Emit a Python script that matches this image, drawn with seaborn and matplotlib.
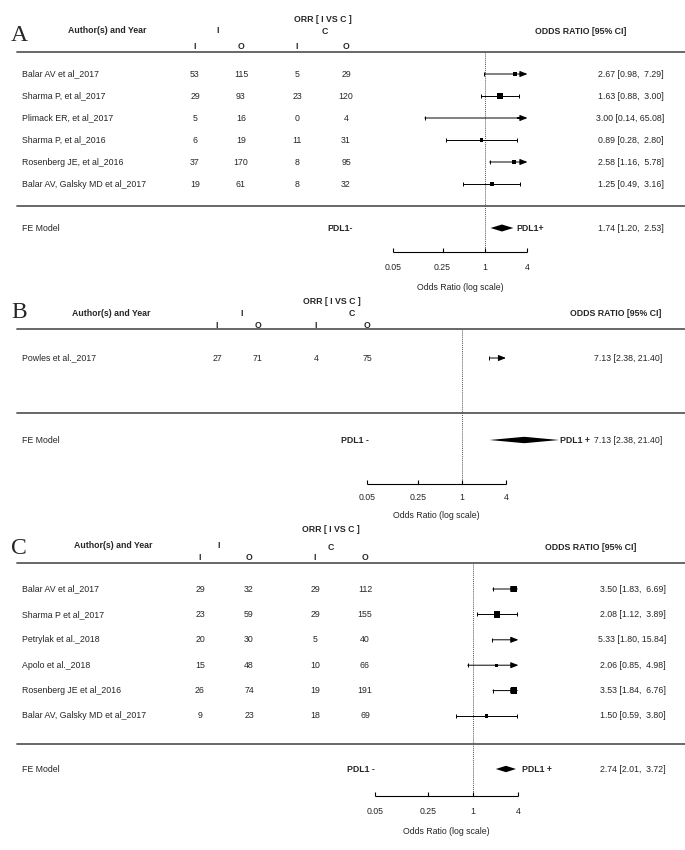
import numpy as np
import matplotlib
matplotlib.use('Agg')
import matplotlib.pyplot as plt
import matplotlib.transforms as mtransforms
import seaborn as sns

# ---------------- data ----------------
# panel A
a_names = ["Balar AV et al_2017", "Sharma P, et al_2017", "Plimack ER, et al_2017",
           "Sharma P, et al_2016", "Rosenberg JE, et al_2016", "Balar AV, Galsky MD et al_2017"]
a_ii = [53, 29, 5, 6, 37, 19]
a_io = [115, 93, 16, 19, 170, 61]
a_ci = [5, 23, 0, 11, 8, 8]
a_co = [29, 120, 4, 31, 95, 32]
a_or = [2.67, 1.63, 3.00, 0.89, 2.58, 1.25]
a_lo = [0.98, 0.88, 0.14, 0.28, 1.16, 0.49]
a_hi = [7.29, 3.00, 65.08, 2.80, 5.78, 3.16]
a_fe = [1.74, 1.20, 2.53]

# panel B
b_names = ["Powles et al._2017"]
b_ii = [27]
b_io = [71]
b_ci = [4]
b_co = [75]
b_or = [7.13]
b_lo = [2.38]
b_hi = [21.40]
b_fe = [7.13, 2.38, 21.40]

# panel C
c_names = ["Balar AV et al_2017", "Sharma P et al_2017", "Petrylak et al._2018",
           "Apolo et al._2018", "Rosenberg JE et al_2016", "Balar AV, Galsky MD et al_2017"]
c_ii = [29, 23, 20, 15, 26, 9]
c_io = [32, 59, 30, 48, 74, 23]
c_ci = [29, 29, 5, 10, 19, 18]
c_co = [112, 155, 40, 66, 191, 69]
c_or = [3.50, 2.08, 5.33, 2.06, 3.53, 1.50]
c_lo = [1.83, 1.12, 1.80, 0.85, 1.84, 0.59]
c_hi = [6.69, 3.89, 15.84, 4.98, 6.76, 3.80]
c_fe = [2.74, 2.01, 3.72]

ticks = [0.05, 0.25, 1, 4]
tick_labels = ["0.05", "0.25", "1", "4"]

# ---------------- style ----------------
sns.set_theme(style='white')
plt.rcParams['font.family'] = ['Liberation Sans', 'DejaVu Sans']
FS = 6.3
W, H = 685, 850
fig = plt.figure(figsize=(W / 100, H / 100), dpi=100)


def draw_panel(letter, names, ii, io, ci, co, ors, los, his, fe, lay, pdl):
    ax = fig.add_axes([0, 0, 1, 1])
    ax.set_xscale('log')
    ax.set_xlim(np.exp(-lay['x1'] / lay['ppl']), np.exp((W - lay['x1']) / lay['ppl']))
    ax.set_ylim(H, 0)
    ax.axis('off')
    ax.patch.set_alpha(0)
    tx = mtransforms.blended_transform_factory(ax.transAxes, ax.transData)

    def t(px, y, s, **kw):
        kw.setdefault('fontsize', FS)
        kw.setdefault('va', 'center')
        ax.text(px / W, y, s, transform=tx, **kw)

    lo_lim, hi_lim = ticks[0], ticks[-1]
    rows = lay['row0'] + lay['dy'] * np.arange(len(names))

    # panel letter and headers
    t(lay['let_x'], lay['let_y'], letter, fontsize=17, family=['Liberation Serif'], ha='left')
    t(lay['orr_x'], lay['orr_y'], "ORR [ I VS C ]", fontweight='bold', ha='center')
    t(lay['auth_x'], lay['grp_y'], "Author(s) and Year", fontweight='bold', ha='center')
    t(lay['gi_x'], lay['grp_y'], "I", fontweight='bold', ha='center')
    t(lay['gc_x'], lay['grp_y'] + 1, "C", fontweight='bold', ha='center')
    t(lay['odds_x'], lay['grp_y'] + 1, "ODDS RATIO [95% CI]", fontweight='bold', ha='center')
    for px, s in zip(lay['cols'], ["I", "O", "I", "O"]):
        t(px, lay['sub_y'], s, fontweight='bold', ha='center')

    for yy in (lay['line1'], lay['line2']):
        ax.axhline(yy, xmin=17 / W, xmax=1, color='#5c5c5c', lw=1.3)

    ax.vlines(1, lay['line1'], lay['axis_y'], colors='#555555', linestyles=(0, (1, 1)), lw=0.7)

    # study rows
    for k, y in enumerate(rows):
        t(22, y, names[k], ha='left')
        for px, v in zip(lay['cols'], [ii[k], io[k], ci[k], co[k]]):
            t(px, y, str(v), ha='center')
        t(lay['ci_x'], y, f"{ors[k]:.2f} [{los[k]:.2f}, {his[k]:5.2f}]", ha='right')

        lo = max(los[k], lo_lim)
        if his[k] > hi_lim:
            ax.annotate('', xy=(hi_lim, y), xytext=(lo, y),
                        arrowprops=dict(arrowstyle='-|>,head_length=0.5,head_width=0.2',
                                        color='black', lw=0.7, shrinkA=0, shrinkB=0,
                                        mutation_scale=9))
            ax.vlines([lo], y - 2, y + 2, colors='black', lw=0.7)
        else:
            ax.hlines(y, lo, his[k], colors='black', lw=0.7)
            ax.vlines([lo, his[k]], y - 2, y + 2, colors='black', lw=0.7)

    # square size from inverse-variance weight (0.5 added for zero cells)
    tab = np.array([ii, io, ci, co], dtype=float)
    tab = np.where((tab == 0).any(axis=0), tab + 0.5, tab)
    w = 1 / (1 / tab).sum(axis=0)
    if len(w) > 1:
        psize = (w - w.min()) / (w.max() - w.min()) + 0.5
    else:
        psize = np.ones(1)
    side_pt = psize * 4.5 * 0.72
    ors_a = np.array(ors)
    keep = ors_a <= hi_lim
    if keep.sum() > 1:
        area = side_pt[keep] ** 2
        sns.scatterplot(x=ors_a[keep], y=rows[keep], size=area,
                        sizes=(area.min(), area.max()), marker='s', color='black',
                        linewidth=0, legend=False, ax=ax)

    # fixed-effect model
    fy = lay['fe_y']
    t(22, fy, "FE Model", ha='left')
    est, flo, fhi = fe
    h = lay['dh']
    ax.fill([flo, est, fhi, est], [fy, fy - h, fy, fy + h], color='black', lw=0)
    t(lay['pm_x'], fy, pdl[0], fontweight='bold', ha='center')
    ax.annotate(pdl[1], xy=(fhi, fy), xytext=(lay['pp_off'], 0), textcoords='offset points',
                fontsize=FS, fontweight='bold', ha='left', va='center')
    t(lay['ci_x'], fy, f"{est:.2f} [{flo:.2f}, {fhi:5.2f}]", ha='right')

    # log axis bracket
    ay = lay['axis_y']
    ax.hlines(ay, lo_lim, hi_lim, colors='black', lw=0.8)
    ax.vlines(ticks, ay - 4, ay, colors='black', lw=0.8)
    for tv, tl in zip(ticks, tick_labels):
        ax.text(tv, lay['tl_y'], tl, fontsize=FS, ha='center', va='center')
    ax.text(np.sqrt(lo_lim * hi_lim), lay['xl_y'], "Odds Ratio (log scale)",
            fontsize=FS, ha='center', va='center')


lay_a = dict(x1=485, ppl=30.6, let_x=11, let_y=35, orr_x=323, orr_y=19, grp_y=30,
             auth_x=107, gi_x=218, gc_x=325, odds_x=581, sub_y=46,
             cols=[195, 241, 297, 346], line1=52, line2=206, row0=74, dy=22,
             ci_x=664, fe_y=228, dh=3.5, pm_x=340, pp_off=2,
             axis_y=252, tl_y=268, xl_y=287)
lay_b = dict(x1=462, ppl=31.7, let_x=11, let_y=312, orr_x=332, orr_y=301, grp_y=313,
             auth_x=111, gi_x=242, gc_x=352, odds_x=616, sub_y=325,
             cols=[217, 258, 316, 367], line1=329, line2=413, row0=358, dy=22,
             ci_x=662, fe_y=440, dh=3.2, pm_x=355, pp_off=1,
             axis_y=484, tl_y=497, xl_y=516)
lay_c = dict(x1=473, ppl=32.7, let_x=11, let_y=548, orr_x=331, orr_y=529, grp_y=546,
             auth_x=113, gi_x=219, gc_x=331, odds_x=591, sub_y=558,
             cols=[200, 249, 315, 365], line1=563, line2=744, row0=589, dy=25.4,
             ci_x=666, fe_y=769, dh=3.2, pm_x=361, pp_off=4,
             axis_y=796, tl_y=812, xl_y=831)

draw_panel("A", a_names, a_ii, a_io, a_ci, a_co, a_or, a_lo, a_hi, a_fe, lay_a, ["PDL1-", "PDL1+"])
draw_panel("B", b_names, b_ii, b_io, b_ci, b_co, b_or, b_lo, b_hi, b_fe, lay_b, ["PDL1 -", "PDL1 +"])
draw_panel("C", c_names, c_ii, c_io, c_ci, c_co, c_or, c_lo, c_hi, c_fe, lay_c, ["PDL1 -", "PDL1 +"])

fig.savefig('out.png', dpi=100, facecolor='white')
